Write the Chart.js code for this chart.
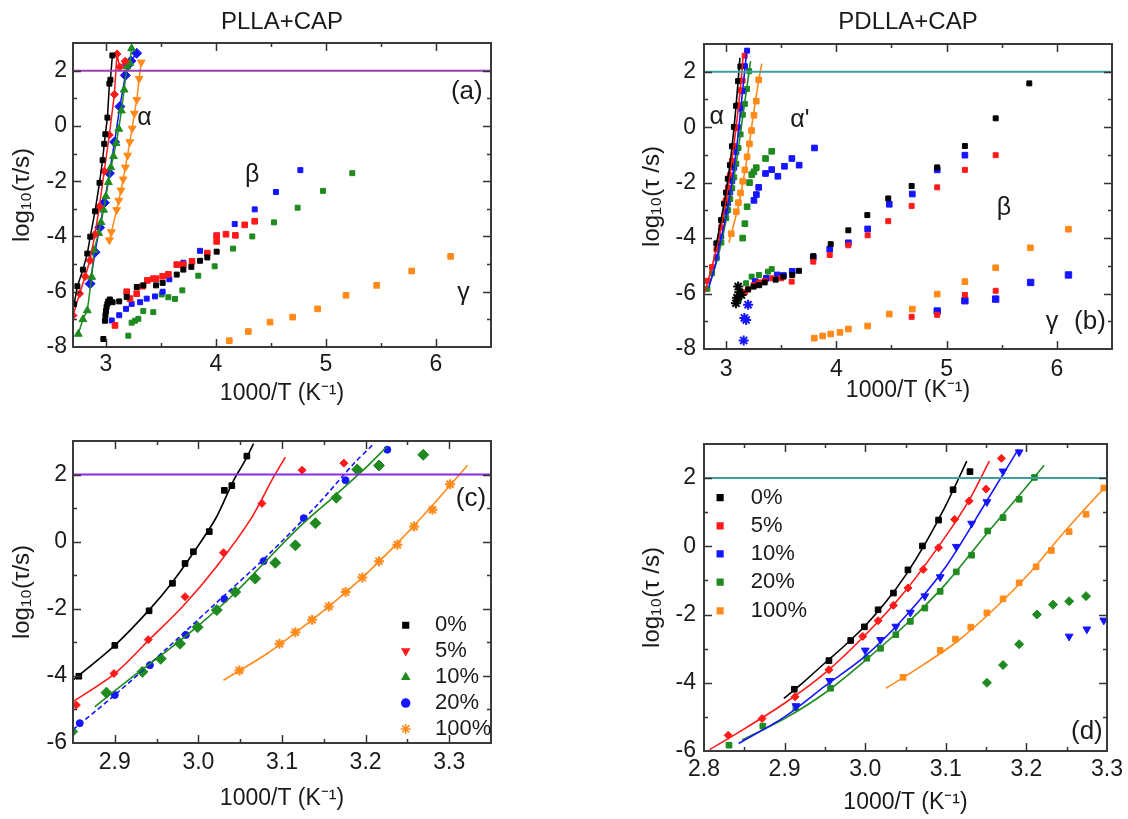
<!DOCTYPE html>
<html lang="en">
<head>
<meta charset="UTF-8">
<title>Relaxation map PLLA+CAP / PDLLA+CAP</title>
<script src="https://cdn.jsdelivr.net/npm/chart.js"></script>
<style>
    body {
        margin: 0;
        background: #fff;
        font-family: "Liberation Sans", Arial, sans-serif;
    }
    .panel { position: absolute; }
    #boxA { left: 0; top: 0; }
    #boxB { left: 564px; top: 0; }
    #boxC { left: 0; top: 409px; }
    #boxD { left: 564px; top: 409px; }
</style>
</head>
<body>
<div class="panel" id="boxA"><canvas id="chartA" width="564" height="409"></canvas></div>
<div class="panel" id="boxB"><canvas id="chartB" width="564" height="409"></canvas></div>
<div class="panel" id="boxC"><canvas id="chartC" width="564" height="410"></canvas></div>
<div class="panel" id="boxD"><canvas id="chartD" width="564" height="410"></canvas></div>

<script>
// ---- data: [1000/T, log10(tau/s)] ----

// (a) PLLA+CAP, alpha process
const aAlpha0 = [[2.71,-6.45],[2.74,-5.8],[2.79,-5.2],[2.83,-4.62],[2.857,-4.01],[2.9,-3.09],[2.941,-2.06],[2.969,-1.24],[2.984,-0.65],[2.994,-0.3],[3.013,0.3],[3.031,1.53],[3.04,1.67],[3.058,2.55]];
const aAlpha5 = [[2.7,-6.86],[2.76,-6.07],[2.81,-5.45],[2.854,-4.87],[2.899,-3.93],[2.94,-2.92],[2.984,-1.64],[3.03,-0.33],[3.076,1.14],[3.1,2.6],[3.124,2.13],[3.174,2.34]];
const aAlpha10 = [[2.748,-7.53],[2.79,-7.0],[2.83,-6.68],[2.87,-5.47],[2.89,-4.5],[2.933,-3.88],[2.955,-3.49],[2.978,-3.04],[2.999,-2.55],[3.022,-2.04],[3.044,-1.5],[3.068,-1.1],[3.092,-0.63],[3.116,-0.11],[3.14,0.55],[3.165,1.31],[3.19,2.15],[3.216,2.27],[3.233,2.8]];
const aAlpha20 = [[2.855,-5.71],[2.9,-4.57],[2.942,-3.68],[2.985,-2.78],[3.031,-1.71],[3.078,-0.58],[3.126,0.7],[3.176,1.83],[3.2,2.2],[3.226,2.35],[3.279,2.63]];
const aAlpha100 = [[3.031,-4.13],[3.049,-3.84],[3.097,-3.04],[3.116,-2.7],[3.136,-2.33],[3.156,-1.93],[3.176,-1.5],[3.196,-1.07],[3.216,-0.58],[3.238,-0.09],[3.258,0.45],[3.28,0.95],[3.301,1.71],[3.32,2.3]];

// (a) beta and gamma processes
const aBeta0 = [[2.976,-7.71],[2.99,-7.05],[2.995,-6.85],[3.0,-6.7],[3.005,-6.55],[3.012,-6.45],[3.02,-6.35],[3.035,-6.28],[3.06,-6.38],[3.12,-6.35],[3.188,-6.19],[3.28,-5.83],[3.34,-5.77],[3.455,-5.77],[3.515,-5.68],[3.643,-5.38],[3.703,-5.2],[3.776,-5.1],[3.855,-4.88],[3.921,-4.76],[4.006,-4.55]];
const aBeta5 = [[3.082,-7.22],[3.188,-6.0],[3.218,-6.25],[3.279,-6.07],[3.333,-5.8],[3.376,-5.59],[3.43,-5.53],[3.455,-5.53],[3.515,-5.44],[3.567,-5.37],[3.643,-5.02],[3.703,-5.02],[3.782,-4.9],[3.921,-4.6],[4.006,-4.18],[4.006,-3.97],[4.091,-3.92],[4.176,-3.96],[4.261,-3.58],[4.352,-3.45]];
const aBeta20 = [[3.052,-7.04],[3.12,-6.85],[3.182,-6.62],[3.233,-6.44],[3.31,-6.38],[3.37,-6.25],[3.445,-6.17],[3.515,-6.0],[3.576,-5.55],[3.703,-4.95],[3.855,-4.52],[4.006,-3.97],[4.17,-3.55],[4.352,-3.02],[4.545,-2.39],[4.767,-1.6]];
const aBeta10 = [[3.203,-7.59],[3.233,-7.12],[3.264,-7.05],[3.294,-6.98],[3.339,-6.7],[3.43,-6.74],[3.506,-6.1],[3.567,-6.2],[3.627,-6.26],[3.694,-5.95],[3.839,-5.42],[3.988,-5.08],[4.155,-4.44],[4.33,-4.0],[4.527,-3.49],[4.742,-2.96],[4.973,-2.35],[5.239,-1.71]];
const aGamma100 = [[4.121,-7.77],[4.294,-7.44],[4.491,-7.1],[4.697,-6.92],[4.924,-6.62],[5.182,-6.13],[5.461,-5.77],[5.779,-5.25],[6.133,-4.72]];

// (c) zoom of the PLLA+CAP alpha process: points and VFT fits
const cAlpha0 = [[2.857,-4.01],[2.9,-3.09],[2.941,-2.06],[2.969,-1.24],[2.984,-0.65],[2.994,-0.3],[3.013,0.3],[3.031,1.53],[3.04,1.67],[3.058,2.55]];
const cAlpha5 = [[2.854,-4.87],[2.899,-3.93],[2.94,-2.92],[2.984,-1.64],[3.03,-0.33],[3.076,1.14],[3.124,2.13],[3.174,2.34]];
const cAlpha10 = [[2.849,-5.66],[2.89,-4.5],[2.933,-3.88],[2.955,-3.49],[2.978,-3.04],[2.999,-2.55],[3.022,-2.04],[3.044,-1.5],[3.068,-1.1],[3.092,-0.63],[3.116,-0.11],[3.14,0.55],[3.165,1.31],[3.19,2.15],[3.216,2.27],[3.269,2.59]];
const cAlpha20 = [[2.858,-5.41],[2.9,-4.57],[2.942,-3.68],[2.985,-2.78],[3.031,-1.71],[3.078,-0.58],[3.126,0.7],[3.176,1.83],[3.226,2.74]];
const cAlpha100 = [[3.049,-3.84],[3.097,-3.04],[3.116,-2.7],[3.136,-2.33],[3.156,-1.93],[3.176,-1.5],[3.196,-1.07],[3.216,-0.58],[3.238,-0.09],[3.258,0.45],[3.28,0.95],[3.301,1.71]];
const cFit0 = [[2.85,-4.13],[2.9,-3.09],[2.942,-2.01],[2.97,-1.17],[3.002,-0.04],[3.022,0.75],[3.042,1.82],[3.056,2.42],[3.066,2.92]];
const cFit5 = [[2.85,-4.77],[2.9,-3.93],[2.942,-2.9],[2.982,-1.91],[3.022,-0.73],[3.062,0.65],[3.09,1.93],[3.104,2.52]];
const cFit10 = [[2.876,-4.92],[2.92,-4.05],[2.96,-3.3],[3.0,-2.5],[3.04,-1.62],[3.08,-0.6],[3.12,0.42],[3.16,1.3],[3.2,2.2],[3.225,2.82]];
const cFit20 = [[2.85,-5.6],[2.9,-4.57],[2.962,-3.19],[3.022,-1.81],[3.082,-0.43],[3.142,1.09],[3.186,2.33],[3.21,2.92]];
const cFit100 = [[3.03,-4.13],[3.082,-3.34],[3.122,-2.6],[3.162,-1.81],[3.202,-0.93],[3.242,0.06],[3.282,1.14],[3.322,2.28]];

// (b)/(d) PDLLA+CAP alpha process: points and VFT fits
const dAlpha0 = [[2.912,-4.19],[2.955,-3.35],[2.982,-2.76],[2.999,-2.36],[3.016,-1.86],[3.035,-1.37],[3.053,-0.69],[3.071,0.01],[3.091,0.77],[3.109,1.66],[3.13,2.19]];
const dAlpha5 = [[2.83,-5.54],[2.872,-5.05],[2.913,-4.41],[2.955,-3.62],[2.997,-2.64],[3.016,-2.18],[3.035,-1.73],[3.053,-1.22],[3.072,-0.68],[3.091,-0.04],[3.111,0.79],[3.129,1.33],[3.15,1.68],[3.169,2.58]];
const dAlpha10 = [[2.914,-4.68],[2.956,-3.94],[3.0,-3.05],[3.019,-2.74],[3.038,-2.35],[3.056,-1.94],[3.074,-1.46],[3.093,-0.9],[3.113,-0.01],[3.132,0.67],[3.151,1.3],[3.171,2.2],[3.191,2.76]];
const dAlpha20 = [[2.831,-5.83],[2.873,-5.27],[2.914,-4.73],[2.957,-4.16],[3.002,-3.28],[3.019,-2.99],[3.038,-2.59],[3.056,-2.2],[3.074,-1.81],[3.093,-1.32],[3.113,-0.75],[3.132,-0.26],[3.152,0.45],[3.171,0.84],[3.191,1.38],[3.21,2.02]];
const dAlpha100 = [[3.047,-3.84],[3.093,-3.05],[3.112,-2.72],[3.131,-2.37],[3.151,-1.95],[3.171,-1.54],[3.191,-1.07],[3.212,-0.6],[3.231,-0.12],[3.253,0.43],[3.274,0.94],[3.296,1.71]];
const dFit0 = [[2.899,-4.46],[2.925,-3.95],[2.95,-3.42],[2.975,-2.9],[3.0,-2.33],[3.025,-1.65],[3.05,-0.85],[3.075,0.1],[3.1,1.2],[3.126,2.5]];
const dFit5 = [[2.807,-5.96],[2.85,-5.35],[2.9,-4.6],[2.95,-3.72],[3.0,-2.6],[3.05,-1.3],[3.1,0.3],[3.13,1.4],[3.154,2.5]];
const dFit10 = [[2.843,-5.78],[2.9,-5.0],[2.95,-4.1],[3.0,-3.22],[3.05,-2.05],[3.1,-0.6],[3.15,1.3],[3.19,2.85]];
const dFit20 = [[2.847,-5.68],[2.9,-5.05],[2.95,-4.3],[3.0,-3.35],[3.05,-2.3],[3.1,-1.1],[3.15,0.35],[3.2,1.75],[3.222,2.38]];
const dFit100 = [[3.026,-4.16],[3.069,-3.52],[3.114,-2.79],[3.159,-1.86],[3.204,-0.78],[3.248,0.45],[3.3,1.79],[3.325,2.29]];

// alpha' process (PDLLA+CAP)
const alphaP10 = [[3.253,-2.64],[3.275,-2.43],[3.296,-2.17],[3.358,-1.67],[3.414,-1.53],[3.47,-1.77],[3.53,-1.41],[3.597,-1.13],[3.663,-1.37],[3.802,-0.75]];
const alphaP20 = [[3.151,-4.0],[3.171,-3.48],[3.191,-2.87],[3.213,-2.0],[3.233,-1.71],[3.253,-1.61],[3.274,-1.46],[3.358,-1.13],[3.414,-0.87]];

// (b) beta and gamma processes
const bStar0 = [[3.09,-6.35],[3.1,-6.15],[3.11,-5.75],[3.12,-5.95],[3.14,-6.05]];
const bBeta0 = [[3.2,-5.85],[3.25,-5.75],[3.3,-5.7],[3.35,-5.6],[3.45,-5.5],[3.52,-5.39],[3.6,-5.33],[3.661,-5.18],[3.791,-4.65],[3.949,-4.22],[4.109,-3.72],[4.281,-3.17],[4.471,-2.57],[4.683,-2.12],[4.915,-1.45],[5.166,-0.68],[5.445,0.32],[5.75,1.58]];
const bBeta5 = [[3.13,-6.0],[3.17,-5.95],[3.2,-5.85],[3.25,-5.7],[3.3,-5.6],[3.35,-5.55],[3.42,-5.45],[3.5,-5.45],[3.595,-5.57],[3.791,-4.85],[3.94,-4.61],[4.109,-4.26],[4.284,-3.9],[4.471,-3.39],[4.683,-2.84],[4.915,-2.17],[5.166,-1.54],[5.445,-1.01]];
const bStar10 = [[3.16,-7.69],[3.166,-6.88],[3.182,-6.95],[3.2,-6.4]];
const bBeta10 = [[3.265,-5.57],[3.365,-5.45],[3.464,-5.33],[3.52,-5.35],[3.6,-5.2],[3.791,-4.7],[3.94,-4.4],[4.109,-4.17],[4.284,-3.67],[4.48,-2.78],[4.689,-2.41],[4.915,-1.54],[5.166,-1.01]];
const bBeta20 = [[3.116,-6.23],[3.15,-5.99],[3.182,-5.63],[3.232,-5.39],[3.298,-5.33],[3.381,-5.21],[3.414,-5.12]];
const bGamma5 = [[4.683,-6.84],[4.915,-6.77],[5.166,-6.05],[5.445,-5.9]];
const bGamma10 = [[4.915,-6.63],[5.166,-6.26],[5.445,-6.2],[5.762,-5.6],[6.105,-5.33]];
const bGamma100 = [[3.8,-7.61],[3.876,-7.53],[3.949,-7.46],[4.033,-7.4],[4.109,-7.28],[4.284,-7.17],[4.48,-6.74],[4.689,-6.56],[4.915,-6.02],[5.166,-5.57],[5.445,-5.07],[5.76,-4.35],[6.105,-3.68]];

// ticks, reference line, legend
const wideXTicks = [3, 4, 5, 6];
const cXTicks = [2.9, 3.0, 3.1, 3.2, 3.3];
const dXTicks = [2.8, 2.9, 3.0, 3.1, 3.2, 3.3];
const wideYTicks = [-8, -6, -4, -2, 0, 2];
const zoomYTicks = [-6, -4, -2, 0, 2];
const tauLine = 2;
const contents = ['0%', '5%', '10%', '20%', '100%'];

const BLACK = '#000000', RED = '#ff1a1a', GREEN = '#1f8a1f', BLUE = '#1515ff', ORANGE = '#ff8a1a';
const TXT = '#1a1a1a';
const FONT = '"Liberation Sans", Arial, sans-serif';

Chart.defaults.font.family = FONT;
Chart.defaults.color = TXT;

function pts(arr) {
    return arr.map(p => ({ x: p[0], y: p[1] }));
}

function marks(arr, color, style, r, extra) {
    return Object.assign({
        data: pts(arr), showLine: false, pointStyle: style, pointRadius: r,
        pointBackgroundColor: color, pointBorderColor: color, pointBorderWidth: 1,
        borderColor: color, borderWidth: 1.5
    }, extra || {});
}

function curve(arr, color, dash) {
    return {
        data: pts(arr), showLine: true, pointRadius: 0, borderColor: color,
        borderWidth: 1.6, borderDash: dash || [], tension: 0.3
    };
}

function hline(xMin, xMax, color) {
    return {
        data: [{ x: xMin, y: tauLine }, { x: xMax, y: tauLine }], showLine: true,
        pointRadius: 0, borderColor: color, borderWidth: 2
    };
}

// box round the plot with inward major/minor ticks on all four sides
const framePlugin = {
    id: 'frame',
    afterDatasetsDraw(chart, args, o) {
        const { ctx, chartArea: a, scales: { x, y } } = chart;
        ctx.save();
        ctx.strokeStyle = '#333';
        ctx.lineWidth = 1.5;
        ctx.beginPath();
        const marksX = [], marksY = [];
        x.ticks.forEach(t => {
            marksX.push([t.value, 8], [t.value - o.xStep / 2, 4], [t.value + o.xStep / 2, 4]);
        });
        y.ticks.forEach(t => {
            marksY.push([t.value, 8], [t.value - 1, 4], [t.value + 1, 4]);
        });
        marksX.forEach(([v, len]) => {
            if (v <= x.min + 1e-6 || v >= x.max - 1e-6) return;
            const px = Math.round(x.getPixelForValue(v)) + 0.5;
            ctx.moveTo(px, a.bottom); ctx.lineTo(px, a.bottom - len);
            ctx.moveTo(px, a.top); ctx.lineTo(px, a.top + len);
        });
        marksY.forEach(([v, len]) => {
            if (v <= y.min + 1e-6 || v >= y.max - 1e-6) return;
            const py = Math.round(y.getPixelForValue(v)) + 0.5;
            ctx.moveTo(a.left, py); ctx.lineTo(a.left + len, py);
            ctx.moveTo(a.right, py); ctx.lineTo(a.right - len, py);
        });
        ctx.stroke();
        ctx.lineWidth = 2;
        ctx.strokeStyle = '#3a3a3a';
        ctx.strokeRect(a.left, a.top, a.right - a.left, a.bottom - a.top);
        ctx.restore();
    }
};

// panel title, process labels and the in-plot legend
const textPlugin = {
    id: 'panelText',
    afterDraw(chart, args, o) {
        const { ctx, chartArea: a, scales: { x, y } } = chart;
        ctx.save();
        ctx.fillStyle = TXT;
        ctx.textBaseline = 'middle';
        if (o.title) {
            ctx.font = '24px ' + FONT;
            ctx.textAlign = 'center';
            ctx.fillText(o.title, (a.left + a.right) / 2, o.titleY);
        }
        (o.labels || []).forEach(l => {
            ctx.font = (l.size || 25) + 'px ' + FONT;
            ctx.textAlign = 'center';
            ctx.fillText(l.text, x.getPixelForValue(l.x), y.getPixelForValue(l.y));
        });
        if (o.legend) {
            const lg = o.legend;
            ctx.font = '22px ' + FONT;
            ctx.textAlign = 'left';
            contents.forEach((name, i) => {
                const py = y.getPixelForValue(lg.ys[i]);
                const st = lg.styles[i];
                ctx.fillStyle = st.color;
                ctx.strokeStyle = st.color;
                ctx.lineWidth = 1.5;
                Chart.helpers.drawPoint(ctx, { pointStyle: st.style, radius: st.r, rotation: st.rot || 0, borderWidth: 1.5 },
                    x.getPixelForValue(lg.symX), py);
                ctx.fillStyle = TXT;
                ctx.fillText(name, x.getPixelForValue(lg.textX), py);
            });
        }
        ctx.restore();
    }
};

function makePanel(id, o) {
    return new Chart(document.getElementById(id), {
        type: 'scatter',
        data: { datasets: o.datasets },
        options: {
            responsive: false,
            animation: false,
            events: [],
            layout: { padding: o.pad },
            plugins: {
                legend: { display: false },
                tooltip: { enabled: false },
                frame: { xStep: o.xStep },
                panelText: { title: o.title, titleY: o.titleY, labels: o.labels, legend: o.legend }
            },
            scales: {
                x: {
                    type: 'linear', min: o.xMin, max: o.xMax,
                    afterBuildTicks: s => { s.ticks = o.xTicks.map(v => ({ value: v })); },
                    afterFit: s => { s.height = o.xH; },
                    grid: { display: false, drawTicks: false },
                    border: { display: false },
                    ticks: { padding: o.xPad, font: { size: 23 }, color: TXT, maxRotation: 0, callback: o.xFmt },
                    title: { display: true, text: '1000/T (K⁻¹)', font: { size: 23 }, color: TXT,
                        padding: { top: 0, bottom: o.xTitlePad } }
                },
                y: {
                    type: 'linear', min: o.yMin, max: 3,
                    afterBuildTicks: s => { s.ticks = o.yTicks.map(v => ({ value: v })); },
                    afterFit: s => { s.width = o.yW; },
                    grid: { display: false, drawTicks: false },
                    border: { display: false },
                    ticks: { padding: o.yPad, font: { size: 23 }, color: TXT, callback: v => String(v) },
                    title: { display: true, text: o.yTitle, font: { size: 24 }, color: TXT,
                        padding: { top: 8, bottom: 0 } }
                }
            }
        },
        plugins: [framePlugin, textPlugin]
    });
}

const intFmt = v => String(v);
const decFmt = v => v.toFixed(1);

// (a) PLLA+CAP overview
makePanel('chartA', {
    title: 'PLLA+CAP', titleY: 22,
    pad: { left: 0, top: 43, right: 73, bottom: 0 },
    xMin: 2.7, xMax: 6.5, xTicks: wideXTicks, xStep: 1, xFmt: intFmt,
    yMin: -8, yTicks: wideYTicks, yTitle: 'log₁₀(τ/s)',
    yW: 73, xH: 62, xPad: 4, yPad: 6, xTitlePad: 2,
    labels: [
        { text: 'α', x: 3.35, y: 0.3 },
        { text: 'β', x: 4.33, y: -1.77 },
        { text: 'γ', x: 6.25, y: -6.06 },
        { text: '(a)', x: 6.28, y: 1.25, size: 26 }
    ],
    datasets: [
        hline(2.7, 6.5, '#9a3fb0'),
        marks(aAlpha0, BLACK, 'rect', 3.5, { showLine: true }),
        marks(aAlpha5, RED, 'rectRot', 4, { showLine: true }),
        marks(aAlpha10, GREEN, 'triangle', 4.5, { showLine: true }),
        marks(aAlpha20, BLUE, 'rectRot', 5, { showLine: true }),
        marks(aAlpha100, ORANGE, 'triangle', 4.5, { showLine: true, pointRotation: 180 }),
        marks(aBeta0, BLACK, 'rect', 3.5),
        marks(aBeta5, RED, 'rect', 4),
        marks(aBeta20, BLUE, 'rect', 3.5),
        marks(aBeta10, GREEN, 'rect', 3.5),
        marks(aGamma100, ORANGE, 'rect', 4)
    ]
});

// (b) PDLLA+CAP overview
makePanel('chartB', {
    title: 'PDLLA+CAP', titleY: 22,
    pad: { left: 66, top: 44, right: 16, bottom: 0 },
    xMin: 2.8, xMax: 6.5, xTicks: wideXTicks, xStep: 1, xFmt: intFmt,
    yMin: -8, yTicks: wideYTicks, yTitle: 'log₁₀(τ /s)',
    yW: 74, xH: 60, xPad: 7, yPad: 8, xTitlePad: 5,
    labels: [
        { text: 'α', x: 2.915, y: 0.37 },
        { text: "α'", x: 3.67, y: 0.26 },
        { text: 'β', x: 5.52, y: -2.92 },
        { text: 'γ', x: 5.955, y: -7.03 },
        { text: '(b)', x: 6.3, y: -7.03, size: 26 }
    ],
    datasets: [
        hline(2.8, 6.5, '#3f9f9f'),
        curve(dFit0, BLACK), curve(dFit5, RED), curve(dFit10, BLUE), curve(dFit20, GREEN), curve(dFit100, ORANGE),
        marks(dAlpha0, BLACK, 'rect', 3.5),
        marks(dAlpha5, RED, 'rect', 3.5),
        marks(dAlpha10, BLUE, 'rect', 3.5),
        marks(dAlpha20, GREEN, 'rect', 3.5),
        marks(dAlpha100, ORANGE, 'rect', 4),
        marks(alphaP10, BLUE, 'rect', 4),
        marks(alphaP20, GREEN, 'rect', 4),
        marks(bStar0, BLACK, 'star', 5, { pointBorderWidth: 2 }),
        marks(bBeta0, BLACK, 'rect', 3.5),
        marks(bBeta5, RED, 'rect', 3.5),
        marks(bStar10, BLUE, 'star', 5, { pointBorderWidth: 2 }),
        marks(bBeta10, BLUE, 'rect', 4),
        marks(bBeta20, GREEN, 'rect', 3.5),
        marks(bGamma5, RED, 'rect', 3.5),
        marks(bGamma10, BLUE, 'rect', 4.5),
        marks(bGamma100, ORANGE, 'rect', 4)
    ]
});

// (c) PLLA+CAP alpha region
makePanel('chartC', {
    pad: { left: 0, top: 32, right: 73, bottom: 0 },
    xMin: 2.85, xMax: 3.35, xTicks: cXTicks, xStep: 0.1, xFmt: decFmt,
    yMin: -6, yTicks: zoomYTicks, yTitle: 'log₁₀(τ/s)',
    yW: 73, xH: 76, xPad: 6, yPad: 6, xTitlePad: 7,
    labels: [{ text: '(c)', x: 3.326, y: 1.29, size: 26 }],
    legend: {
        symX: 3.248, textX: 3.283, ys: [-2.49, -3.26, -4.04, -4.81, -5.58],
        styles: [
            { color: BLACK, style: 'rect', r: 4 },
            { color: RED, style: 'triangle', r: 4, rot: 180 },
            { color: GREEN, style: 'triangle', r: 4 },
            { color: BLUE, style: 'circle', r: 4 },
            { color: ORANGE, style: 'star', r: 5 }
        ]
    },
    datasets: [
        hline(2.85, 3.35, '#8a2be2'),
        curve(cFit0, BLACK), curve(cFit5, RED), curve(cFit10, GREEN), curve(cFit20, BLUE, [5, 3]), curve(cFit100, ORANGE),
        marks(cAlpha0, BLACK, 'rect', 4),
        marks(cAlpha5, RED, 'rectRot', 4),
        marks(cAlpha10, GREEN, 'rectRot', 5.5),
        marks(cAlpha20, BLUE, 'circle', 3.5),
        marks(cAlpha100, ORANGE, 'star', 5, { pointBorderWidth: 2 })
    ]
});

// (d) PDLLA+CAP alpha region
makePanel('chartD', {
    pad: { left: 66, top: 35, right: 16, bottom: 0 },
    xMin: 2.8, xMax: 3.3, xTicks: dXTicks, xStep: 0.1, xFmt: decFmt,
    yMin: -6, yTicks: zoomYTicks, yTitle: 'log₁₀(τ /s)',
    yW: 74, xH: 68, xPad: 5, yPad: 8, xTitlePad: 3,
    labels: [{ text: '(d)', x: 3.275, y: -5.44, size: 26 }],
    legend: {
        symX: 2.82, textX: 2.858, ys: [1.43, 0.6, -0.22, -1.05, -1.89],
        styles: [
            { color: BLACK, style: 'rect', r: 4 },
            { color: RED, style: 'rect', r: 4 },
            { color: BLUE, style: 'rect', r: 4 },
            { color: GREEN, style: 'rect', r: 4 },
            { color: ORANGE, style: 'rect', r: 4 }
        ]
    },
    datasets: [
        hline(2.8, 3.3, '#3f9f9f'),
        curve(dFit0, BLACK), curve(dFit5, RED), curve(dFit10, BLUE), curve(dFit20, GREEN), curve(dFit100, ORANGE),
        marks(dAlpha0, BLACK, 'rect', 4),
        marks(dAlpha5, RED, 'rectRot', 4),
        marks(dAlpha10, BLUE, 'triangle', 4.5, { pointRotation: 180 }),
        marks(dAlpha20, GREEN, 'rect', 4),
        marks(dAlpha100, ORANGE, 'rect', 4),
        marks(alphaP10, BLUE, 'triangle', 4.5, { pointRotation: 180 }),
        marks(alphaP20, GREEN, 'rectRot', 4.5)
    ]
});
</script>
</body>
</html>
